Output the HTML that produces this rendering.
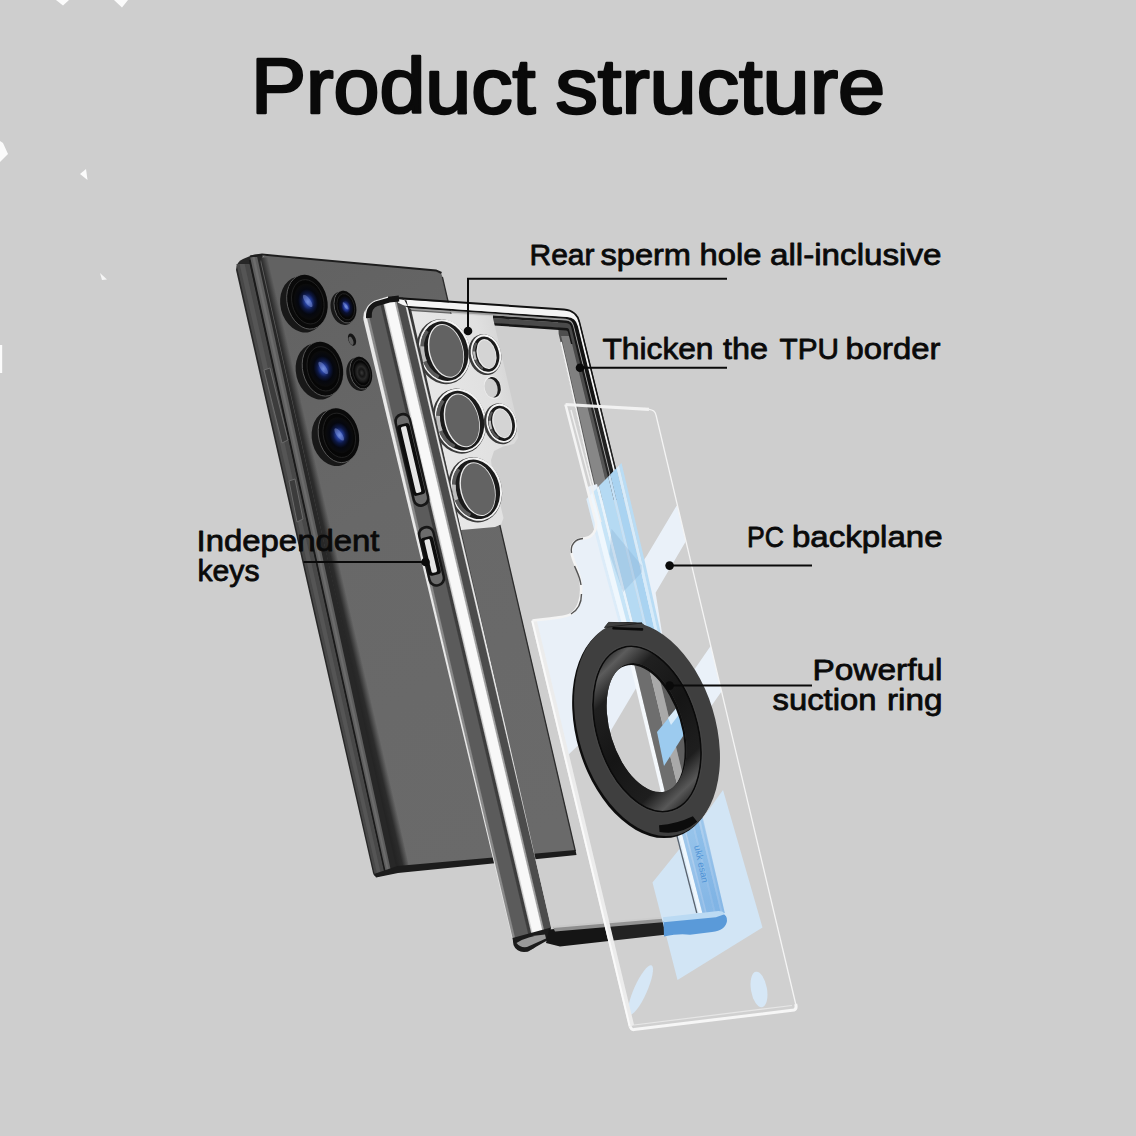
<!DOCTYPE html>
<html>
<head>
<meta charset="utf-8">
<title>Product structure</title>
<style>
html,body{margin:0;padding:0;background:#cecece;}
body{width:1136px;height:1136px;overflow:hidden;position:relative;font-family:"Liberation Sans",sans-serif;}
svg{position:absolute;left:0;top:0;display:block;}
text{font-family:"Liberation Sans",sans-serif;fill:#0a0a0a;}
</style>
</head>
<body>
<svg width="1136" height="1136" viewBox="0 0 1136 1136">
<defs>
<linearGradient id="gBack" gradientUnits="userSpaceOnUse" x1="250" y1="300" x2="560" y2="820">
 <stop offset="0" stop-color="#626262"/><stop offset="0.4" stop-color="#686868"/><stop offset="1" stop-color="#6a6a6a"/>
</linearGradient>
<radialGradient id="gLens" cx="0.5" cy="0.5" r="0.5">
 <stop offset="0" stop-color="#5878d0"/><stop offset="0.22" stop-color="#263f9c"/><stop offset="0.45" stop-color="#0d1844"/><stop offset="0.7" stop-color="#05070f"/><stop offset="1" stop-color="#0b0b0b"/>
</radialGradient>
<radialGradient id="gLensS" cx="0.5" cy="0.5" r="0.5">
 <stop offset="0" stop-color="#5f7fd8"/><stop offset="0.3" stop-color="#23389a"/><stop offset="0.6" stop-color="#0a1030"/><stop offset="1" stop-color="#080808"/>
</radialGradient>
<radialGradient id="gLensD" cx="0.5" cy="0.5" r="0.5">
 <stop offset="0" stop-color="#3a3a3a"/><stop offset="0.35" stop-color="#151515"/><stop offset="0.6" stop-color="#2a2a2a"/><stop offset="1" stop-color="#0a0a0a"/>
</radialGradient>
<linearGradient id="gShade" gradientUnits="userSpaceOnUse" x1="262" y1="287" x2="274" y2="284.2"><stop offset="0" stop-color="#242424"/><stop offset="0.45" stop-color="#2c2c2c"/><stop offset="1" stop-color="#2c2c2c" stop-opacity="0"/></linearGradient><linearGradient id="gRailDark" gradientUnits="userSpaceOnUse" x1="0" y1="700" x2="0" y2="900"><stop offset="0" stop-color="#5f9bdb" stop-opacity="0"/><stop offset="1" stop-color="#5f9bdb" stop-opacity="0.55"/></linearGradient><linearGradient id="gCamPlate" gradientUnits="userSpaceOnUse" x1="420" y1="400" x2="520" y2="377"><stop offset="0" stop-color="#e8e8e8"/><stop offset="0.7" stop-color="#e0e0e0"/><stop offset="1" stop-color="#d2d2d2"/></linearGradient><linearGradient id="gLrail" gradientUnits="userSpaceOnUse" x1="370.0" y1="340.0" x2="414.3" y2="329.6"><stop offset="0.000" stop-color="#e9e9e9"/><stop offset="0.033" stop-color="#e9e9e9"/><stop offset="0.057" stop-color="#8a8a8a"/><stop offset="0.088" stop-color="#8a8a8a"/><stop offset="0.112" stop-color="#5b5b5b"/><stop offset="0.388" stop-color="#5b5b5b"/><stop offset="0.412" stop-color="#3d3d3d"/><stop offset="0.458" stop-color="#3d3d3d"/><stop offset="0.482" stop-color="#cfcfcf"/><stop offset="0.488" stop-color="#cfcfcf"/><stop offset="0.512" stop-color="#f8f8f8"/><stop offset="0.708" stop-color="#f8f8f8"/><stop offset="0.732" stop-color="#a0a0a0"/><stop offset="0.748" stop-color="#a0a0a0"/><stop offset="0.772" stop-color="#4c4c4c"/><stop offset="0.918" stop-color="#4c4c4c"/><stop offset="0.942" stop-color="#e6e6e6"/><stop offset="0.958" stop-color="#e6e6e6"/><stop offset="0.982" stop-color="#3a3a3a"/><stop offset="1.000" stop-color="#3a3a3a"/></linearGradient><clipPath id="cpPlate"><path d="M565.5,404.5 L596,522.5 C597,531 592,538 583,538.5 C575,539 570,545 571.5,553 C573,562 580,572 581,585 C582,597 579,609 571,614 C566,617 556,618 532.5,620.5 L630,1026 Q631,1030 634,1029.6 L794,1010 Q797,1009 795.7,1004 L656,415 Q655,410 649,409.4 Z"/></clipPath><linearGradient id="gBevel" gradientUnits="objectBoundingBox" x1="0.35" y1="0" x2="0.65" y2="1"><stop offset="0" stop-color="#2a2a2a"/><stop offset="0.07" stop-color="#5c5c5c"/><stop offset="0.2" stop-color="#202020"/><stop offset="0.5" stop-color="#151515"/><stop offset="0.8" stop-color="#1e1e1e"/><stop offset="0.92" stop-color="#585858"/><stop offset="1" stop-color="#2a2a2a"/></linearGradient><clipPath id="cpHole"><ellipse cx="0" cy="0" rx="37.5" ry="67" transform="translate(647,727.5) rotate(-17)"/></clipPath></defs>
<rect x="0" y="0" width="1136" height="1136" fill="#cecece"/>
<g id="bgx"><polygon points="56,0 69,0 63,5.5" fill="#fbfbfb"/>
<polygon points="114,0 128,0 122,7.5" fill="#fbfbfb"/>
<polygon points="0,141 3,143 8,154 0,162" fill="#fbfbfb"/>
<polygon points="80,174 86,169 87.5,180" fill="#fbfbfb"/>
<polygon points="100,273 107,279.5 102,280" fill="#f6f6f6"/>
<rect x="0" y="345" width="2.2" height="28" fill="#fbfbfb"/></g>
<g id="phone"><path d="M236,270 Q236,262 243,259 L252,255.2 Q256,254 262,254.6 L280,300 L404,867 L396,872.5 L378,876.5 Q374,877 373,873 Z" fill="#272727"/>
<polygon points="236.4,264.0 249.7,264.0 384.9,874.5 374.7,874.5" fill="#484848"/>
<polygon points="239.6,264.0 244.6,264.0 381.0,874.5 377.2,874.5" fill="#555555"/>
<polygon points="248.8,260.0 250.8,260.0 386.1,873.0 384.5,873.0" fill="#1a1a1a"/>
<polygon points="250.1,257.0 257.2,257.0 391.2,872.0 385.8,872.0" fill="#5e5e5e"/>
<polygon points="252.2,257.0 254.7,257.0 389.3,872.0 387.4,872.0" fill="#6c6c6c"/>
<path d="M260.5,262 Q261,254.8 268,255.3 L436,270.4 Q441,271 442.2,276 L575.5,851 L397.5,867 Z" fill="url(#gBack)"/>
<polygon points="260.5,258.0 274.0,256.5 409.0,866.0 396.0,867.0" fill="url(#gShade)"/>
<path d="M442.4,277 L575.3,851" fill="none" stroke="#2c2c2c" stroke-width="1.3"/>
<polyline points="250.0,256.5 262.0,254.6 436.0,270.4 441.5,273.0" fill="none" stroke="#1e1e1e" stroke-width="2"/>
<polygon points="397.5,866.0 575.5,850.0 576.5,855.0 398.0,873.0 376.0,877.5 374.0,874.0" fill="#1c1c1c"/>
<polygon points="264.0,370.0 270.0,368.0 288.0,440.0 282.0,443.0" fill="#3c3c3c" stroke="#6a6a6a" stroke-width="1"/>
<polygon points="289.0,481.0 295.0,479.0 303.0,519.0 297.0,522.0" fill="#3c3c3c" stroke="#6a6a6a" stroke-width="1"/>
<g transform="translate(307.0,302.0) rotate(-14)"><ellipse cx="-4.8" cy="1.4" rx="22.2" ry="28.3" fill="#181818"/><ellipse cx="0" cy="0" rx="19.8" ry="27.5" fill="#0a0a0a" stroke="#5a5a5a" stroke-width="0.9"/><ellipse cx="0.8" cy="-0.4" rx="19.5" ry="27.0" fill="#0a0a0a"/><ellipse cx="0.8" cy="0" rx="15.8" ry="22.5" fill="#060606" stroke="#262626" stroke-width="0.8"/><ellipse cx="1" cy="0" rx="13.9" ry="18.2" fill="url(#gLens)"/><ellipse cx="1.2" cy="-0.5" rx="2.6" ry="7.4" fill="#9db4f5" opacity="0.38" transform="rotate(-22)"/></g>
<g transform="translate(345.0,307.0) rotate(-14)"><ellipse cx="-2.5" cy="0.8" rx="11.9" ry="16.9" fill="#181818"/><ellipse cx="0" cy="0" rx="10.6" ry="16.4" fill="#0a0a0a" stroke="#5a5a5a" stroke-width="0.9"/><ellipse cx="0.8" cy="-0.4" rx="10.3" ry="15.9" fill="#0a0a0a"/><ellipse cx="0.8" cy="0" rx="8.5" ry="13.4" fill="#060606" stroke="#262626" stroke-width="0.8"/><ellipse cx="1" cy="0" rx="7.4" ry="10.8" fill="url(#gLensS)"/><ellipse cx="1.2" cy="-0.5" rx="1.4" ry="4.4" fill="#9db4f5" opacity="0.38" transform="rotate(-22)"/></g>
<g transform="translate(322.5,369.0) rotate(-14)"><ellipse cx="-4.8" cy="1.4" rx="22.2" ry="28.3" fill="#181818"/><ellipse cx="0" cy="0" rx="19.8" ry="27.5" fill="#0a0a0a" stroke="#5a5a5a" stroke-width="0.9"/><ellipse cx="0.8" cy="-0.4" rx="19.5" ry="27.0" fill="#0a0a0a"/><ellipse cx="0.8" cy="0" rx="15.8" ry="22.5" fill="#060606" stroke="#262626" stroke-width="0.8"/><ellipse cx="1" cy="0" rx="13.9" ry="18.2" fill="url(#gLens)"/><ellipse cx="1.2" cy="-0.5" rx="2.6" ry="7.4" fill="#9db4f5" opacity="0.38" transform="rotate(-22)"/></g>
<g transform="translate(360.8,373.0) rotate(-14)"><ellipse cx="-2.5" cy="0.8" rx="11.9" ry="16.9" fill="#181818"/><ellipse cx="0" cy="0" rx="10.6" ry="16.4" fill="#0a0a0a" stroke="#5a5a5a" stroke-width="0.9"/><ellipse cx="0.8" cy="-0.4" rx="10.3" ry="15.9" fill="#0a0a0a"/><ellipse cx="0.8" cy="0" rx="8.5" ry="13.4" fill="#060606" stroke="#262626" stroke-width="0.8"/><ellipse cx="1" cy="0" rx="7.4" ry="10.8" fill="url(#gLensD)"/></g>
<g transform="translate(338.5,435.5) rotate(-14)"><ellipse cx="-4.8" cy="1.4" rx="22.2" ry="28.3" fill="#181818"/><ellipse cx="0" cy="0" rx="19.8" ry="27.5" fill="#0a0a0a" stroke="#5a5a5a" stroke-width="0.9"/><ellipse cx="0.8" cy="-0.4" rx="19.5" ry="27.0" fill="#0a0a0a"/><ellipse cx="0.8" cy="0" rx="15.8" ry="22.5" fill="#060606" stroke="#262626" stroke-width="0.8"/><ellipse cx="1" cy="0" rx="13.9" ry="18.2" fill="url(#gLens)"/><ellipse cx="1.2" cy="-0.5" rx="2.6" ry="7.4" fill="#9db4f5" opacity="0.38" transform="rotate(-22)"/></g>
<g transform="translate(352,339.6) rotate(-20)"><ellipse cx="0" cy="0" rx="3.7" ry="6.4" fill="#151515"/><ellipse cx="-1.3" cy="0.8" rx="2" ry="4.4" fill="#5c5c5c"/></g></g>
<g id="case"><polygon points="558.0,320.0 578.0,316.0 582.0,330.0 599.1,400.0 623.6,500.0 596.6,500.0 588.4,466.0 566.4,367.5 558.7,334.0" fill="#4e4e4e"/>
<polygon points="561.1,336.0 571.1,336.0 610.6,500.0 598.6,500.0" fill="#808080"/>
<polygon points="571.1,336.0 576.1,336.0 617.6,500.0 610.6,500.0" fill="#5c5c5c"/>
<polyline points="561.0,342.0 566.9,367.5 588.9,466.0 597.1,500.0" fill="none" stroke="#f2f2f2" stroke-width="1.6"/>
<path d="M493.0,317.9 L566.3,322.9 Q570.5,323.2 571.5,327.3 L613.8,500.0 L610.2,500.0 L568.6,330.0 Q568.2,328.6 566.7,328.5 L493.0,323.4 Z" fill="#4a4a4a"/>
<path d="M494.0,323.0 L567.1,328.0 Q568.6,328.1 569.0,329.6 L572.5,344.0 L571.0,344.0 L568.0,332.0 Q567.7,330.6 566.2,330.5 L494.0,325.5 Z" fill="#161616"/>
<path d="M493.0,315.3 L566.1,320.3 Q572.0,320.7 573.4,326.5 L615.9,500.0 L613.5,500.0 L571.2,327.3 Q570.3,323.4 566.3,323.1 L493.0,318.1 Z" fill="#181818"/>
<path d="M404.0,307.3 L565.6,318.5 Q572.6,319.0 574.2,325.7 L616.9,500.0 L615.7,500.0 L573.2,326.5 Q571.8,320.9 566.1,320.5 L404.0,309.3 Z" fill="#9c9c9c"/>
<path d="M400.0,305.3 L566.9,316.8 Q575.9,317.4 578.0,326.1 L620.6,500.0 L616.7,500.0 L574.0,325.8 Q572.4,319.2 565.6,318.7 L400.0,307.3 Z" fill="#131313"/>
<path d="M398.0,298.9 L564.3,310.4 Q576.2,311.2 579.1,322.8 L622.5,500.0 L620.5,500.0 L577.9,326.2 Q575.8,317.6 567.0,317.0 L398.0,305.3 Z" fill="#f5f5f5"/>
<path d="M392.0,296.7 L564.0,308.5 Q577.1,309.5 580.3,322.2 L623.8,500.0 L622.3,500.0 L578.9,322.9 Q576.1,311.4 564.3,310.6 L392.0,298.7 Z" fill="#111111"/>
<polygon points="410.5,311.0 492.6,316.5 509.5,389.0 517.0,421.0 518.0,438.0 514.0,444.0 503.0,446.5 494.0,451.0 491.0,460.0 492.0,470.0 503.5,518.0 501.0,524.5 495.0,527.0 461.0,530.0" fill="url(#gCamPlate)"/>
<g transform="translate(444.2,351.0) rotate(-14)"><ellipse cx="-0.9" cy="0.4" rx="26.7" ry="32.9" fill="#3a3a3a"/><ellipse cx="0.4" cy="0" rx="25.4" ry="32.0" fill="#f4f4f4"/><ellipse cx="0.3" cy="0.2" rx="23.5" ry="30.1" fill="#1a1a1a"/><ellipse cx="-0.2" cy="0.3" rx="21.4" ry="28.2" fill="none" stroke="#5a5a5a" stroke-width="3.6" pathLength="100" stroke-dasharray="34 66" stroke-dashoffset="-33"/><ellipse cx="-0.2" cy="0.3" rx="21.4" ry="28.2" fill="none" stroke="#bdbdbd" stroke-width="3.9" pathLength="100" stroke-dasharray="10 90" stroke-dashoffset="-46.5"/><ellipse cx="1.8" cy="0.3" rx="17.4" ry="27.4" fill="#e9e9e9"/><ellipse cx="2.1" cy="0.4" rx="16.3" ry="26.4" fill="#626262"/></g>
<g transform="translate(460.0,420.5) rotate(-14)"><ellipse cx="-0.9" cy="0.4" rx="26.7" ry="32.9" fill="#3a3a3a"/><ellipse cx="0.4" cy="0" rx="25.4" ry="32.0" fill="#f4f4f4"/><ellipse cx="0.3" cy="0.2" rx="23.5" ry="30.1" fill="#1a1a1a"/><ellipse cx="-0.2" cy="0.3" rx="21.4" ry="28.2" fill="none" stroke="#5a5a5a" stroke-width="3.6" pathLength="100" stroke-dasharray="34 66" stroke-dashoffset="-33"/><ellipse cx="-0.2" cy="0.3" rx="21.4" ry="28.2" fill="none" stroke="#bdbdbd" stroke-width="3.9" pathLength="100" stroke-dasharray="10 90" stroke-dashoffset="-46.5"/><ellipse cx="1.8" cy="0.3" rx="17.4" ry="27.4" fill="#e9e9e9"/><ellipse cx="2.1" cy="0.4" rx="16.3" ry="26.4" fill="#626262"/></g>
<g transform="translate(475.8,489.2) rotate(-14)"><ellipse cx="-0.9" cy="0.4" rx="26.7" ry="32.9" fill="#3a3a3a"/><ellipse cx="0.4" cy="0" rx="25.4" ry="32.0" fill="#f4f4f4"/><ellipse cx="0.3" cy="0.2" rx="23.5" ry="30.1" fill="#1a1a1a"/><ellipse cx="-0.2" cy="0.3" rx="21.4" ry="28.2" fill="none" stroke="#5a5a5a" stroke-width="3.6" pathLength="100" stroke-dasharray="34 66" stroke-dashoffset="-33"/><ellipse cx="-0.2" cy="0.3" rx="21.4" ry="28.2" fill="none" stroke="#bdbdbd" stroke-width="3.9" pathLength="100" stroke-dasharray="10 90" stroke-dashoffset="-46.5"/><ellipse cx="1.8" cy="0.3" rx="17.4" ry="27.4" fill="#e9e9e9"/><ellipse cx="2.1" cy="0.4" rx="16.3" ry="26.4" fill="#636363"/></g>
<g transform="translate(485.6,354.0) rotate(-14)"><ellipse cx="-0.9" cy="0.4" rx="16.3" ry="20.7" fill="#3a3a3a"/><ellipse cx="0.4" cy="0" rx="15.0" ry="19.8" fill="#f4f4f4"/><ellipse cx="0.3" cy="0.2" rx="13.1" ry="17.9" fill="#1a1a1a"/><ellipse cx="-0.2" cy="0.3" rx="11.0" ry="16.0" fill="none" stroke="#5a5a5a" stroke-width="2.2" pathLength="100" stroke-dasharray="34 66" stroke-dashoffset="-33"/><ellipse cx="-0.2" cy="0.3" rx="11.0" ry="16.0" fill="none" stroke="#bdbdbd" stroke-width="2.3" pathLength="100" stroke-dasharray="10 90" stroke-dashoffset="-46.5"/><ellipse cx="0.9" cy="0.3" rx="9.6" ry="15.2" fill="#e9e9e9"/><ellipse cx="1.2" cy="0.4" rx="8.5" ry="14.2" fill="#d4d4d4"/></g>
<g transform="translate(501.2,423.2) rotate(-14)"><ellipse cx="-0.9" cy="0.4" rx="16.3" ry="20.7" fill="#3a3a3a"/><ellipse cx="0.4" cy="0" rx="15.0" ry="19.8" fill="#f4f4f4"/><ellipse cx="0.3" cy="0.2" rx="13.1" ry="17.9" fill="#1a1a1a"/><ellipse cx="-0.2" cy="0.3" rx="11.0" ry="16.0" fill="none" stroke="#5a5a5a" stroke-width="2.2" pathLength="100" stroke-dasharray="34 66" stroke-dashoffset="-33"/><ellipse cx="-0.2" cy="0.3" rx="11.0" ry="16.0" fill="none" stroke="#bdbdbd" stroke-width="2.3" pathLength="100" stroke-dasharray="10 90" stroke-dashoffset="-46.5"/><ellipse cx="0.9" cy="0.3" rx="9.6" ry="15.2" fill="#e9e9e9"/><ellipse cx="1.2" cy="0.4" rx="8.5" ry="14.2" fill="#d4d4d4"/></g>
<g transform="translate(492.6,387.4) rotate(-14)"><ellipse cx="0" cy="0" rx="8.6" ry="11.6" fill="#efefef"/><ellipse cx="0.8" cy="0" rx="7.2" ry="10.4" fill="#1c1c1c"/><ellipse cx="-1.6" cy="0.2" rx="6.4" ry="9.6" fill="#cfcfcf"/></g>
<path d="M363.5,320 Q362,308 374,302.5 L388,297.8 L411,309 L551,927.5 L548,940 L528,951.5 Q517,953 513.5,944 Z" fill="url(#gLrail)"/>
<path d="M368.8,318 Q367.5,306.5 377,303 L389,299.6 L399,298.6" fill="none" stroke="#151515" stroke-width="6" stroke-linecap="butt"/>
<path d="M365.6,320 Q364,306 375,301 L388,297.2" fill="none" stroke="#efefef" stroke-width="1.2"/>
<path d="M396,297.4 L403,297.6 L409.5,309.5 L411.5,321 L406.5,300.5 Z" fill="#1a1a1a"/>
<path d="M512.5,938 L551,927.5 L548,940 L528,951.5 Q517,953.5 513.5,945 Z" fill="#1b1b1b"/>
<path d="M516.5,943 Q527,936 545,934.5 L546,938.5 L527,947 Q520,948 516.5,943 Z" fill="#9a9a9a"/>
<polygon points="549.0,929.5 665.0,919.5 667.0,934.5 560.0,946.5 546.0,943.0" fill="#151515"/>
<polygon points="553.0,927.0 665.0,917.5 665.5,922.0 555.0,931.5" fill="#8e8e8e"/>
<polygon points="553.0,926.0 665.0,916.5 665.2,918.4 553.5,928.0" fill="#c9c9c9"/>
<g transform="translate(402.5,422.0) rotate(-13.2)"><rect x="-8" y="-9" width="17" height="96.0" rx="8" fill="#171717"/><rect x="-5.6" y="-6.4" width="12.2" height="90.8" rx="6" fill="#6c6c6c"/><rect x="-6.4" y="2" width="12.6" height="73.0" rx="3.2" fill="#0e0e0e"/><rect x="-3" y="4.5" width="5.6" height="68.0" rx="1.6" fill="#e6e6e6"/></g>
<g transform="translate(426.0,535.0) rotate(-13.2)"><rect x="-8" y="-9" width="17" height="62.0" rx="8" fill="#171717"/><rect x="-5.6" y="-6.4" width="12.2" height="56.8" rx="6" fill="#6c6c6c"/><rect x="-6.4" y="2" width="12.6" height="39.0" rx="3.2" fill="#0e0e0e"/><rect x="-3" y="4.5" width="5.6" height="34.0" rx="1.6" fill="#e6e6e6"/></g></g>
<g id="plate"><path d="M565.5,404.5 L596,522.5 C597,531 592,538 583,538.5 C575,539 570,545 571.5,553 C573,562 580,572 581,585 C582,597 579,609 571,614 C566,617 556,618 532.5,620.5 L630,1026 Q631,1030 634,1029.6 L794,1010 Q797,1009 795.7,1004 L656,415 Q655,410 649,409.4 Z" fill="#ffffff" opacity="0.06"/>
<g clip-path="url(#cpPlate)"><polygon points="520.0,600.0 600.0,500.0 620.0,570.0 646.0,680.0 566.0,757.0 540.0,700.0" fill="#e9f0f8"/>
<polygon points="584.0,488.0 597.0,484.0 607.0,525.0 596.0,530.0" fill="#e9f0f8"/>
<polygon points="640.0,566.0 646.8,555.7 676.7,505.5 690.0,530.0 686.0,541.0 655.6,592.7 664.0,645.0 652.0,645.0" fill="#eaf1f9"/>
<polygon points="686.0,681.0 695.6,667.8 712.0,644.0 724.0,688.0 700.0,722.0" fill="#eaf1f9"/>
<polygon points="600.0,680.0 640.0,650.0 652.0,672.0 606.0,736.0" fill="#eaf1f9"/>
<polygon points="652.5,882.5 690.0,836.0 723.0,790.0 762.5,927.5 677.5,980.0" fill="#d2e5f5"/>
<ellipse cx="640.5" cy="990" rx="6.5" ry="27" fill="#d6e7f6" transform="rotate(24 640.5 990)"/>
<ellipse cx="759" cy="989.5" rx="8" ry="18" fill="#d6e7f6" transform="rotate(-10 759 989.5)"/></g>
<polygon points="586.3,499.0 601.8,560.0 626.3,650.0 650.8,740.0 675.3,830.0 696.8,913.0 698.7,913.0 677.4,830.0 653.2,740.0 629.0,650.0 604.8,560.0 588.8,496.5" fill="#dcecf9"/>
<polygon points="588.8,496.5 604.8,560.0 629.0,650.0 653.2,740.0 677.4,830.0 698.7,913.0 702.4,913.0 681.3,830.0 657.6,740.0 634.0,650.0 610.3,560.0 593.4,491.8" fill="#eff7fd"/>
<polygon points="593.4,491.8 610.3,560.0 634.0,650.0 657.6,740.0 681.3,830.0 702.4,913.0 705.2,913.0 684.2,830.0 661.0,740.0 637.8,650.0 614.6,560.0 596.9,488.2" fill="#c6e4f7"/>
<polygon points="596.9,488.2 614.6,560.0 637.8,650.0 661.0,740.0 684.2,830.0 705.2,913.0 706.9,913.0 686.0,830.0 663.0,740.0 640.1,650.0 617.1,560.0 599.0,486.0" fill="#e8f3fb"/>
<polygon points="599.0,486.0 617.1,560.0 640.1,650.0 663.0,740.0 686.0,830.0 706.9,913.0 714.1,913.0 693.7,830.0 671.8,740.0 650.0,650.0 628.2,560.0 608.2,476.7" fill="#b5daf3"/>
<polygon points="608.2,476.7 628.2,560.0 650.0,650.0 671.8,740.0 693.7,830.0 714.1,913.0 715.8,913.0 695.4,830.0 673.9,740.0 652.3,650.0 630.8,560.0 610.3,474.5" fill="#c6e1f6"/>
<polygon points="610.3,474.5 630.8,560.0 652.3,650.0 673.9,740.0 695.4,830.0 715.8,913.0 720.9,913.0 700.7,830.0 680.0,740.0 659.2,650.0 638.5,560.0 616.6,468.0" fill="#a9d3f1"/>
<polygon points="616.6,468.0 638.5,560.0 659.2,650.0 680.0,740.0 700.7,830.0 720.9,913.0 722.8,913.0 702.8,830.0 682.4,740.0 661.9,650.0 641.5,560.0 619.1,465.5" fill="#d8ebf9"/>
<polygon points="619.1,465.5 641.5,560.0 661.9,650.0 682.4,740.0 702.8,830.0 722.8,913.0 724.8,913.0 704.9,830.0 684.7,740.0 664.6,650.0 644.5,560.0 621.5,463.0" fill="#b9dcf4"/>
<polygon points="611.5,528.7 641.5,565.2 642.0,572.3 623.1,592.1 609.4,554.1" fill="#86abd0" opacity="0.3"/>
<polygon points="647.1,700.0 675.8,700.0 724.8,913.0 702.4,913.0" fill="url(#gRailDark)"/>
<polyline points="677.0,836.0 696.8,913.0" fill="none" stroke="#5a6470" stroke-width="1.3"/>
<text x="0" y="0" font-size="9.5" fill="#4f93d6" style="fill:#4f93d6" transform="translate(694,846) rotate(77.5)">ukk esan</text>
<path d="M663.5,921 L722,913.5 Q727.5,915 727,921 Q725.5,930.5 712,932 L690,934.8 Q680,933 664,936.5 Z" fill="#5a9ad9"/>
<path d="M663,917.2 L716,911.2 Q723.5,910.5 724.5,914.2 L716,917.2 L663.5,922.2 Z" fill="#bbdaf3"/>
<path d="M565.5,404.5 L649,409.4" fill="none" stroke="#f3f3f3" stroke-width="3.2" opacity="0.95"/>
<path d="M649,409.4 Q655,410 656,415 L795.7,1004" fill="none" stroke="#f4f4f4" stroke-width="1.3"/>
<path d="M795.7,1004 Q797,1009 794,1010 L634,1029.6 Q631,1030 630,1026" fill="none" stroke="#f6f6f6" stroke-width="3"/>
<path d="M634,1025 L792,1005.5" fill="none" stroke="#e6e6e6" stroke-width="1.2"/>
<path d="M631.5,1026 L534,620.5" fill="none" stroke="#ececec" stroke-width="5.4"/>
<path d="M629.6,1026 L532.2,620.5" fill="none" stroke="#fafafa" stroke-width="2"/>
<path d="M565.5,404.5 L596,522.5 C597,531 592,538 583,538.5 C575,539 570,545 571.5,553 C573,562 580,572 581,585 C582,597 579,609 571,614 C566,617 556,618 532.5,620.5" fill="none" stroke="#f4f4f4" stroke-width="2.6"/>
<path d="M571,410 L601,522" fill="none" stroke="#f0f0f0" stroke-width="1.4"/>
<path d="M583,538.5 C575,539 570,545 571.5,553" fill="none" stroke="#555" stroke-width="1.4"/>
<path d="M574.5,566 C577,572 580,577 581,585" fill="none" stroke="#555" stroke-width="1.4"/>
<path d="M581.5,594 C581.5,603 578,610 571,614" fill="none" stroke="#555" stroke-width="1.4"/></g>
<g id="ring"><g clip-path="url(#cpHole)"><polygon points="600.0,640.0 700.0,640.0 700.0,800.0 600.0,800.0" fill="#cecece"/>
<polygon points="596.0,650.0 660.0,640.0 648.0,668.0 604.0,742.0 596.0,742.0" fill="#e9f0f8"/>
<polygon points="626.7,650.0 630.7,650.0 666.8,800.0 662.8,800.0" fill="#f4f8fc"/>
<polygon points="630.7,650.0 644.7,650.0 680.8,800.0 666.8,800.0" fill="#6e6e6e"/>
<polygon points="644.7,650.0 652.7,650.0 688.8,800.0 680.8,800.0" fill="#a9a9a9"/>
<polygon points="652.7,650.0 662.7,650.0 698.8,800.0 688.8,800.0" fill="#5e5e5e"/>
<polygon points="657.0,732.0 690.0,692.0 690.0,725.0 664.0,766.0" fill="#9ccbef"/>
<polygon points="668.0,718.0 690.0,692.0 690.0,700.0 671.0,725.0" fill="#d9ecfa"/></g>
<g transform="translate(647,729) rotate(-17)">
<path d="M-68.5,0 A68.5,110.0 0 1,0 68.5,0 A68.5,110.0 0 1,0 -68.5,0 Z M-36.5,-1.5 A36.5,66.5 0 1,1 36.5,-1.5 A36.5,66.5 0 1,1 -36.5,-1.5 Z" fill="#0d0d0d" fill-rule="evenodd" transform="translate(-2.4,1.4)"/>
<path d="M-68.5,0 A68.5,110.0 0 1,0 68.5,0 A68.5,110.0 0 1,0 -68.5,0 Z M-36.5,-1.5 A36.5,66.5 0 1,1 36.5,-1.5 A36.5,66.5 0 1,1 -36.5,-1.5 Z" fill="#3f3f3f" fill-rule="evenodd"/>
<path d="M-50.0,0 A50.0,85.0 0 1,0 50.0,0 A50.0,85.0 0 1,0 -50.0,0 Z M-36.5,-1.5 A36.5,66.5 0 1,1 36.5,-1.5 A36.5,66.5 0 1,1 -36.5,-1.5 Z" fill="url(#gBevel)" fill-rule="evenodd"/>
<ellipse cx="0" cy="0" rx="50" ry="85" fill="none" stroke="#0a0a0a" stroke-width="1.6"/>
<ellipse cx="0" cy="0" rx="51.5" ry="86.5" fill="none" stroke="#454545" stroke-width="1"/>
</g>
<polygon points="604.5,627.5 608.5,622.4 642,623 648.5,628.5" fill="#3f3f3f"/>
<polygon points="604.5,627.5 608.5,622.4 642,623" fill="none" stroke="#1a1a1a" stroke-width="0.8"/>
<path d="M613.5,628.2 L642,629.4" stroke="#0a0a0a" stroke-width="2.6" stroke-linecap="round" fill="none"/>
<g transform="translate(647,729) rotate(-17)">
<path d="M-19,102 L-17.5,95.5 Q0,99.5 17.5,97 L20,103.5 Q0,112 -19,102 Z" fill="#0c0c0c" transform="rotate(-0.5)"/>
</g></g>
<g id="labels"><text id="title" x="251" y="112.8" font-size="78" textLength="284.5" lengthAdjust="spacingAndGlyphs" stroke="#0a0a0a" stroke-width="2.6" stroke-linejoin="round">Product</text>
<text id="title2" x="555.5" y="112.8" font-size="78" textLength="329.5" lengthAdjust="spacingAndGlyphs" stroke="#0a0a0a" stroke-width="2.6" stroke-linejoin="round">structure</text>
<text id="w0" x="529.50" y="264.8" font-size="30" textLength="65.00" lengthAdjust="spacingAndGlyphs" stroke="#0a0a0a" stroke-width="0.8" stroke-linejoin="round">Rear</text>
<text id="w1" x="600.50" y="264.8" font-size="30" textLength="90.50" lengthAdjust="spacingAndGlyphs" stroke="#0a0a0a" stroke-width="0.8" stroke-linejoin="round">sperm</text>
<text id="w2" x="699.50" y="264.8" font-size="30" textLength="62.00" lengthAdjust="spacingAndGlyphs" stroke="#0a0a0a" stroke-width="0.8" stroke-linejoin="round">hole</text>
<text id="w3" x="770.00" y="264.8" font-size="30" textLength="171.50" lengthAdjust="spacingAndGlyphs" stroke="#0a0a0a" stroke-width="0.8" stroke-linejoin="round">all-inclusive</text>
<text id="w4" x="602.50" y="358.6" font-size="30" textLength="111.00" lengthAdjust="spacingAndGlyphs" stroke="#0a0a0a" stroke-width="0.8" stroke-linejoin="round">Thicken</text>
<text id="w5" x="723.00" y="358.6" font-size="30" textLength="45.00" lengthAdjust="spacingAndGlyphs" stroke="#0a0a0a" stroke-width="0.8" stroke-linejoin="round">the</text>
<text id="w6" x="779.50" y="358.6" font-size="30" textLength="59.50" lengthAdjust="spacingAndGlyphs" stroke="#0a0a0a" stroke-width="0.8" stroke-linejoin="round">TPU</text>
<text id="w7" x="845.50" y="358.6" font-size="30" textLength="95.00" lengthAdjust="spacingAndGlyphs" stroke="#0a0a0a" stroke-width="0.8" stroke-linejoin="round">border</text>
<text id="w8" x="747.00" y="546.5" font-size="30" textLength="37.00" lengthAdjust="spacingAndGlyphs" stroke="#0a0a0a" stroke-width="0.8" stroke-linejoin="round">PC</text>
<text id="w9" x="792.00" y="546.5" font-size="30" textLength="150.50" lengthAdjust="spacingAndGlyphs" stroke="#0a0a0a" stroke-width="0.8" stroke-linejoin="round">backplane</text>
<text id="w10" x="812.50" y="679.7" font-size="30" textLength="130.00" lengthAdjust="spacingAndGlyphs" stroke="#0a0a0a" stroke-width="0.8" stroke-linejoin="round">Powerful</text>
<text id="w11" x="772.50" y="710.0" font-size="30" textLength="104.00" lengthAdjust="spacingAndGlyphs" stroke="#0a0a0a" stroke-width="0.8" stroke-linejoin="round">suction</text>
<text id="w12" x="887.00" y="710.0" font-size="30" textLength="55.50" lengthAdjust="spacingAndGlyphs" stroke="#0a0a0a" stroke-width="0.8" stroke-linejoin="round">ring</text>
<text id="w13" x="196.50" y="550.6" font-size="30" textLength="183.00" lengthAdjust="spacingAndGlyphs" stroke="#0a0a0a" stroke-width="0.8" stroke-linejoin="round">Independent</text>
<text id="w14" x="197.50" y="581.0" font-size="30" textLength="62.00" lengthAdjust="spacingAndGlyphs" stroke="#0a0a0a" stroke-width="0.8" stroke-linejoin="round">keys</text>
<polyline points="727,278.7 468,278.7 468,330" fill="none" stroke="#0a0a0a" stroke-width="2"/>
<circle cx="468" cy="331" r="4.3" fill="#0a0a0a"/>
<polyline points="727,367.8 580,367.8" fill="none" stroke="#0a0a0a" stroke-width="2"/>
<circle cx="580" cy="367.8" r="4.3" fill="#0a0a0a"/>
<polyline points="812,565.6 670,565.6" fill="none" stroke="#0a0a0a" stroke-width="2"/>
<circle cx="669.6" cy="565.6" r="4.3" fill="#0a0a0a"/>
<polyline points="812,685.6 670,685.6" fill="none" stroke="#0a0a0a" stroke-width="2"/>
<circle cx="669.6" cy="685.6" r="4.3" fill="#0a0a0a"/>
<polyline points="303.5,562 425,562" fill="none" stroke="#0a0a0a" stroke-width="2"/>
<circle cx="425.5" cy="562" r="4.3" fill="#0a0a0a"/></g>
</svg>
</body>
</html>
